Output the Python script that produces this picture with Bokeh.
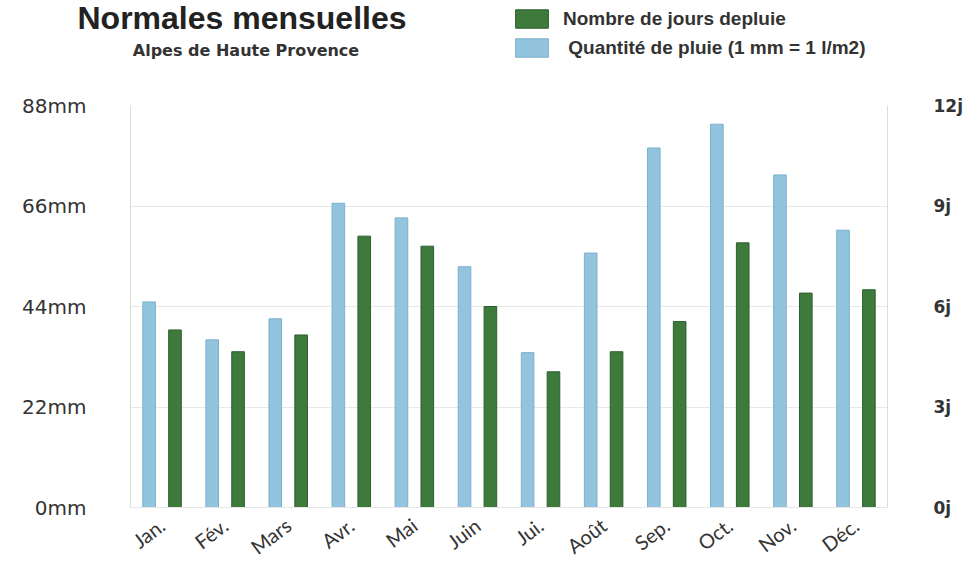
from bokeh.plotting import figure
from bokeh.models import (FactorRange, Range1d, LinearAxis, FixedTicker, PrintfTickFormatter,
                          Label, Legend, LegendItem, ColumnDataSource)
from bokeh.transform import dodge
from bokeh.embed import file_html
from bokeh.resources import INLINE

months = ["Jan.", "Fév.", "Mars", "Avr.", "Mai", "Juin", "Jui.", "Août", "Sep.", "Oct.", "Nov.", "Déc."]
rain_mm = [45.0, 36.7, 41.3, 66.6, 63.4, 52.7, 33.9, 55.7, 78.7, 83.9, 72.8, 60.7]
rain_days = [5.3, 4.65, 5.15, 8.1, 7.8, 6.0, 4.05, 4.65, 5.55, 7.9, 6.4, 6.5]
mm_ticks = [0, 22, 44, 66, 88]
day_ticks = [0, 3, 6, 9, 12]
title_text = "Normales mensuelles"
subtitle_text = "Alpes de Haute Provence"
legend_days = "Nombre de jours depluie"
legend_mm = " Quantité de pluie (1 mm = 1 l/m2)"

BLUE, BLUE_LINE = "#92c4dd", "#7cb0cd"
GREEN, GREEN_LINE = "#3e7a3c", "#2e5e2e"

src = ColumnDataSource(dict(month=months, mm=rain_mm, days=rain_days))

# ---------- header (title + legend), a separate root so its frame spans the full width ----------
HEAD_H = 91
head = figure(width=965, height=HEAD_H, x_range=Range1d(0, 1), y_range=Range1d(0, 1),
              output_backend="svg", toolbar_location=None, x_axis_type=None, y_axis_type=None,
              min_border=0, min_border_left=0, min_border_right=0, min_border_top=0,
              min_border_bottom=0)
head.outline_line_color = None
head.grid.visible = False

head.add_layout(Label(x=241.5, y=74, x_units="screen", y_units="screen", text=title_text,
                      text_align="center", text_baseline="alphabetic", text_font="Liberation Sans",
                      text_font_style="bold", text_font_size="32px", text_color="#222222"))
head.add_layout(Label(x=245.5, y=41, x_units="screen", y_units="screen", text=subtitle_text,
                      text_align="center", text_baseline="alphabetic", text_font="DejaVu Sans",
                      text_font_style="bold", text_font_size="16px", text_color="#333333"))

# legend proxies: same data, drawn outside the header's (0..1) x range so only the swatches show
g_days = head.vbar(x="mm", top="days", width=0.2, source=src, fill_color=GREEN, line_color=GREEN_LINE)
g_mm = head.vbar(x="mm", top="days", width=0.2, source=src, fill_color=BLUE, line_color=BLUE_LINE)
legend = Legend(items=[LegendItem(label=legend_days, renderers=[g_days]),
                       LegendItem(label=legend_mm, renderers=[g_mm])],
                location=(511, 32), orientation="vertical", glyph_width=41, glyph_height=23,
                label_text_font="Liberation Sans", label_text_font_style="bold",
                label_text_font_size="19px", label_text_color="#333333",
                background_fill_alpha=0, border_line_color=None, spacing=6, padding=0,
                margin=0, label_standoff=11, label_height=20)
head.add_layout(legend, "center")

# ---------- main chart ----------
p = figure(width=965, height=480, x_range=FactorRange(*months, range_padding=0),
           y_range=Range1d(0, 88), output_backend="svg", toolbar_location=None,
           min_border_left=130, min_border_right=78, min_border_top=14, min_border_bottom=63)
p.extra_y_ranges = {"days": Range1d(0, 12)}
p.outline_line_color = None
p.background_fill_color = "white"

p.vbar(x=dodge("month", -0.205, range=p.x_range), top="mm", width=0.2, source=src,
       fill_color=BLUE, line_color=BLUE_LINE, line_width=1)
p.vbar(x=dodge("month", 0.205, range=p.x_range), top="days", width=0.2, source=src,
       y_range_name="days", fill_color=GREEN, line_color=GREEN_LINE, line_width=1)

p.yaxis.ticker = FixedTicker(ticks=mm_ticks)
p.yaxis.formatter = PrintfTickFormatter(format="%dmm")
p.yaxis.major_label_text_font = "DejaVu Sans"
p.yaxis.major_label_text_font_size = "20px"
p.yaxis.major_label_text_color = "#333333"
p.yaxis.major_label_standoff = 44
p.yaxis.axis_line_color = "#dddddd"
p.yaxis.major_tick_line_color = None
p.yaxis.major_tick_out = 0
p.yaxis.minor_tick_line_color = None

ra = LinearAxis(y_range_name="days", ticker=FixedTicker(ticks=day_ticks),
                formatter=PrintfTickFormatter(format="%dj"))
ra.major_label_text_font = "DejaVu Sans"
ra.major_label_text_font_style = "bold"
ra.major_label_text_font_size = "17px"
ra.major_label_text_color = "#333333"
ra.major_label_standoff = 46
ra.axis_line_color = "#dddddd"
ra.major_tick_line_color = None
ra.major_tick_out = 0
ra.minor_tick_line_color = None
p.add_layout(ra, "right")

p.xaxis.major_label_orientation = 0.65
p.xaxis.major_label_text_font = "Lato"
p.xaxis.major_label_text_font_size = "20px"
p.xaxis.major_label_text_color = "#333333"
p.xaxis.major_label_standoff = 15
p.xaxis.axis_line_color = "#e6e6e6"
p.xaxis.major_tick_line_color = None
p.xaxis.major_tick_out = 0

p.xgrid.grid_line_color = None
p.ygrid.grid_line_color = "#e8e8e8"

open("out.html", "w").write(file_html([head, p], INLINE))
